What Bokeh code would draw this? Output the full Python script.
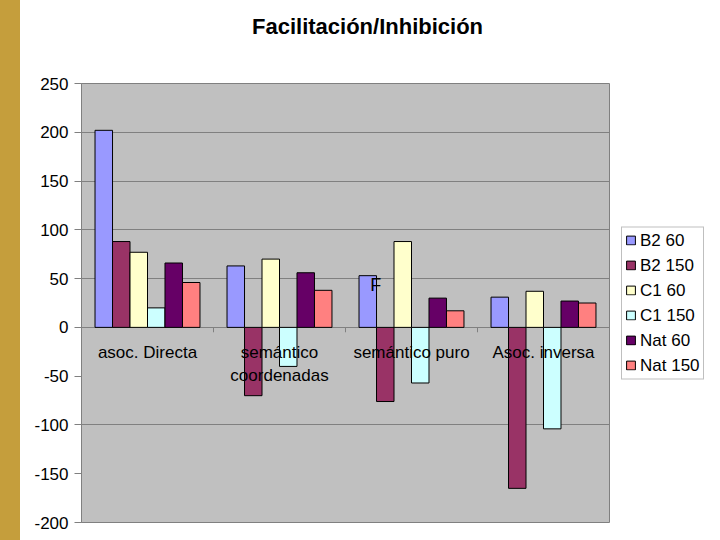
from bokeh.plotting import figure
from bokeh.models import FixedTicker, Legend, LegendItem, Div, Label
from bokeh.layouts import row, column
from bokeh.core.properties import value
from bokeh.embed import file_html
from bokeh.resources import INLINE

# ---- data ----
title_text = "Facilitación/Inhibición"
categories = ["asoc. Directa", "semántico\ncoordenadas", "semántico puro", "Asoc. inversa"]
series_names = ["B2 60", "B2 150", "C1 60", "C1 150", "Nat 60", "Nat 150"]
b2_60 = [202, 63, 53, 31]
b2_150 = [88, -70, -76, -165]
c1_60 = [77, 70, 88, 37]
c1_150 = [20, -40, -57, -104]
nat_60 = [66, 56, 30, 27]
nat_150 = [46, 38, 17, 25]
y_ticks = [-200, -150, -100, -50, 0, 50, 100, 150, 200, 250]
grid_ticks = [-100, 0, 50, 100, 150, 200]
stray_text = "F"

series_values = [b2_60, b2_150, c1_60, c1_150, nat_60, nat_150]
colors = ["#9999FF", "#993366", "#FFFFCC", "#CCFFFF", "#660066", "#FF8080"]

FONT = "Liberation Sans"
GOLD = "#C59E3C"

n_cat = len(categories)
n_ser = len(series_names)
group_width = 0.795
bar_w = group_width / n_ser

p = figure(frame_width=528, frame_height=439, output_backend="svg", toolbar_location=None,
           x_range=(-0.5, n_cat - 0.5), y_range=(y_ticks[0], y_ticks[-1]),
           x_axis_type=None, min_border_left=61, min_border_right=103,
           min_border_top=38, min_border_bottom=18, margin=0, title=None)

p.background_fill_color = "#C0C0C0"
p.border_fill_color = "white"
p.outline_line_color = "#808080"
p.outline_line_width = 1

yax = p.yaxis[0]
yax.ticker = FixedTicker(ticks=y_ticks)
yax.major_label_overrides = {t: str(t) for t in y_ticks}
yax.major_label_text_font = FONT
yax.major_label_text_font_size = "17px"
yax.major_label_text_color = "black"
yax.axis_line_color = "#808080"
yax.major_tick_line_color = "#808080"
yax.major_tick_out = 7
yax.major_tick_in = 0
yax.minor_tick_line_color = None
yax.major_label_standoff = 6

p.ygrid.ticker = FixedTicker(ticks=grid_ticks)
p.ygrid.grid_line_color = "#808080"
p.ygrid.grid_line_width = 1

# boundary tick marks on the category axis (at y = 0)
bounds = [i + 0.5 for i in range(n_cat - 1)]
p.segment(x0=bounds, x1=bounds, y0=[0] * len(bounds), y1=[-5] * len(bounds),
          line_color="#808080", line_width=1)

items = []
for j, (name, vals, col) in enumerate(zip(series_names, series_values, colors)):
    xs = [i + (j - (n_ser - 1) / 2) * bar_w for i in range(n_cat)]
    r = p.vbar(x=xs, top=vals, bottom=0, width=bar_w, fill_color=col,
               line_color="black", line_width=1)
    items.append(LegendItem(label=name, renderers=[r]))

# category labels drawn at the zero line
p.text(x=list(range(n_cat)), y=[0] * n_cat, text=categories,
       text_align="center", text_baseline="top", y_offset=16,
       text_font=value(FONT), text_font_size="17px", text_color="black",
       text_line_height=1.18)

# stray letter on the chart
p.add_layout(Label(x=2 + (0 - (n_ser - 1) / 2) * bar_w, y=b2_60[2], text=stray_text,
                   x_offset=8, y_offset=-19, text_font=FONT, text_font_size="18px",
                   text_color="black", text_align="center"))

legend = Legend(items=items, location="left")
legend.label_text_font = FONT
legend.label_text_font_size = "17px"
legend.label_text_color = "black"
legend.glyph_width = 11
legend.glyph_height = 11
legend.label_height = 20
legend.label_standoff = 4
legend.spacing = 5
legend.padding = 3
legend.margin = 12
legend.border_line_color = "#808080"
legend.background_fill_color = "white"
p.add_layout(legend, "right")

title_div = Div(
    text=('<div style="padding:14px 0 0 232px; font-family:\'Liberation Sans\'; '
          'font-size:22px; font-weight:bold; line-height:26px; color:black; '
          'white-space:nowrap">' + title_text + '</div>'),
    width=692, height=45, margin=0)

left_band = Div(text="", width=20, height=540, margin=0,
                styles={"background-color": GOLD})
right_band = Div(text="", width=8, height=540, margin=0,
                 styles={"background-color": GOLD})

layout = row(left_band, column(title_div, p, spacing=0), right_band)
open("out.html", "w").write(file_html(layout, INLINE))
